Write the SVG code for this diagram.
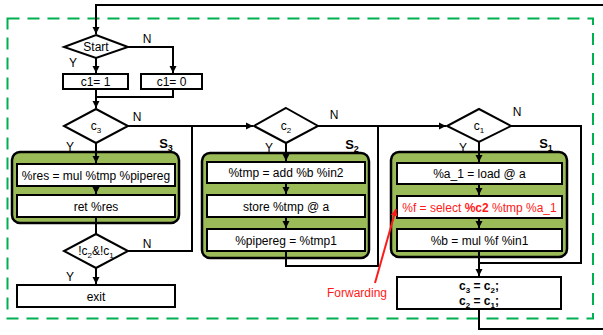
<svg xmlns="http://www.w3.org/2000/svg" width="603" height="335" viewBox="0 0 603 335">
<defs>
<style>
text{font-family:"Liberation Sans",Arial,sans-serif;fill:#000;}
.t{font-size:12px;text-anchor:middle;}
.lbl{font-size:12px;text-anchor:middle;}
.box{fill:#fff;stroke:#000;stroke-width:2;}
.dia{fill:#fff;stroke:#000;stroke-width:2;}
.grp{fill:#9bbb59;stroke:#000;stroke-width:2.5;}
.c{fill:none;stroke:#000;stroke-width:2;}
.s{font-size:13px;font-weight:bold;text-anchor:middle;}
.red{fill:#ff1a1a;}
</style>
<marker id="ah" markerUnits="userSpaceOnUse" markerWidth="8" markerHeight="8" refX="7" refY="4" orient="auto">
<path d="M0,0.5 L7,4 L0,7.5 z" fill="#000"/>
</marker>
<marker id="ahr" markerUnits="userSpaceOnUse" markerWidth="8" markerHeight="8" refX="7" refY="4" orient="auto">
<path d="M0,0.5 L7,4 L0,7.5 z" fill="#ff1a1a"/>
</marker>
</defs>
<rect x="0" y="0" width="603" height="335" fill="#fff"/>
<rect id="region" x="7.5" y="18.5" width="585.5" height="300" fill="none" stroke="#00b050" stroke-width="2" stroke-dasharray="12,8"/>

<g id="start">
<polygon class="dia" points="96,35 128,47 96,58 64,47"/>
<text class="t" x="96" y="51" font-size="12.5">Start</text>
</g>
<g id="c1eq1">
<rect class="box" x="63" y="74" width="65" height="15"/>
<text class="t" x="95.5" y="86">c1= 1</text>
</g>
<g id="c1eq0">
<rect class="box" x="141" y="74" width="61" height="15"/>
<text class="t" x="171.5" y="86">c1= 0</text>
</g>
<g id="c3">
<polygon class="dia" points="96,109 128,126 96,143 64,126"/>
<text class="t" x="96" y="130" font-size="11">c<tspan font-size="8" dy="3">3</tspan></text>
</g>
<g id="S3">
<text class="s" x="166" y="148">S<tspan font-size="9" dy="3">3</tspan></text>
<rect class="grp" x="12" y="152" width="167" height="71" rx="8"/>
<rect class="box" x="17" y="164" width="158" height="22"/>
<text class="t" x="96" y="179.5">%res = mul %tmp %pipereg</text>
<rect class="box" x="17" y="195" width="158" height="22"/>
<text class="t" x="96" y="210.5">ret %res</text>
</g>
<g id="cond">
<polygon class="dia" points="96,234 128,251 96,268 64,251"/>
<text class="t" x="96" y="255" font-size="11">!c<tspan font-size="8" dy="3">2</tspan><tspan dy="-3">&amp;!c</tspan><tspan font-size="8" dy="3">1</tspan></text>
</g>
<g id="exit">
<rect class="box" x="17" y="285" width="158" height="22"/>
<text class="t" x="96" y="300.5">exit</text>
</g>

<g id="c2">
<polygon class="dia" points="286,108 318,126 286,143 254,126"/>
<text class="t" x="286" y="130" font-size="11">c<tspan font-size="8" dy="3">2</tspan></text>
</g>
<g id="S2">
<text class="s" x="352" y="149">S<tspan font-size="9" dy="3">2</tspan></text>
<rect class="grp" x="202" y="153" width="167" height="105" rx="8"/>
<rect class="box" x="207" y="162" width="158" height="21"/>
<text class="t" x="286" y="177">%tmp = add %b %in2</text>
<rect class="box" x="207" y="195" width="158" height="22"/>
<text class="t" x="286" y="210.5">store %tmp @ a</text>
<rect class="box" x="207" y="229" width="158" height="22"/>
<text class="t" x="286" y="244.5">%pipereg = %tmp1</text>
</g>

<g id="c1">
<polygon class="dia" points="479,109 511,126 479,142 447,126"/>
<text class="t" x="479" y="130" font-size="11">c<tspan font-size="8" dy="3">1</tspan></text>
</g>
<g id="S1">
<text class="s" x="546" y="148">S<tspan font-size="9" dy="3">1</tspan></text>
<rect class="grp" x="391" y="152" width="176" height="105" rx="8"/>
<rect class="box" x="397" y="163" width="165" height="21"/>
<text class="t" x="479.5" y="178">%a_1 = load @ a</text>
<rect class="box" x="397" y="196" width="165" height="22"/>
<text class="t red" x="479.5" y="211.5">%f = select <tspan font-weight="bold">%c2</tspan> %tmp %a_1</text>
<rect class="box" x="397" y="229" width="165" height="22"/>
<text class="t" x="479.5" y="244.5">%b = mul %f %in1</text>
</g>
<g id="shift">
<rect class="box" x="397" y="277" width="164" height="32"/>
<text class="t" x="479" y="290" font-weight="bold">c<tspan font-size="8" dy="3">3</tspan><tspan dy="-3"> = c</tspan><tspan font-size="8" dy="3">2</tspan><tspan dy="-3">;</tspan></text>
<text class="t" x="479" y="305" font-weight="bold">c<tspan font-size="8" dy="3">2</tspan><tspan dy="-3"> = c</tspan><tspan font-size="8" dy="3">1</tspan><tspan dy="-3">;</tspan></text>
</g>

<g id="connectors">
<path class="c" d="M603,5 H96 V34" marker-end="url(#ah)"/>
<path class="c" d="M128,47 H173 V73" marker-end="url(#ah)"/>
<path class="c" d="M96,58 V73" marker-end="url(#ah)"/>
<path class="c" d="M173,89 V97 H96"/>
<path class="c" d="M96,89 V108" marker-end="url(#ah)"/>
<path class="c" d="M128,126 H253" marker-end="url(#ah)"/>
<path class="c" d="M128,251 H192 V126"/>
<path class="c" d="M96,143 V163" marker-end="url(#ah)"/>
<path class="c" d="M96,186 V194" marker-end="url(#ah)"/>
<path class="c" d="M96,217 V234"/>
<path class="c" d="M96,268 V284" marker-end="url(#ah)"/>
<path class="c" d="M286,143 V161" marker-end="url(#ah)"/>
<path class="c" d="M286,183 V194" marker-end="url(#ah)"/>
<path class="c" d="M286,217 V228" marker-end="url(#ah)"/>
<path class="c" d="M286,251 V266 H378 V126"/>
<path class="c" d="M318,126 H446" marker-end="url(#ah)"/>
<path class="c" d="M479,142 V162" marker-end="url(#ah)"/>
<path class="c" d="M479,184 V195" marker-end="url(#ah)"/>
<path class="c" d="M479,218 V228" marker-end="url(#ah)"/>
<path class="c" d="M479,251 V276" marker-end="url(#ah)"/>
<path class="c" d="M511,126 H581 V263 H479"/>
<path class="c" d="M479,309 V329 H603"/>
<path d="M375,283 L396,209" fill="none" stroke="#ff1a1a" stroke-width="2" marker-end="url(#ahr)"/>
</g>

<g id="labels">
<text class="lbl" x="147" y="43">N</text>
<text class="lbl" x="73" y="67">Y</text>
<text class="lbl" x="137" y="121">N</text>
<text class="lbl" x="70" y="151">Y</text>
<text class="lbl" x="147" y="248">N</text>
<text class="lbl" x="70" y="281">Y</text>
<text class="lbl" x="334" y="119">N</text>
<text class="lbl" x="269" y="152">Y</text>
<text class="lbl" x="517" y="116">N</text>
<text class="lbl" x="463" y="152">Y</text>
<text class="lbl red" x="357" y="297">Forwarding</text>
</g>
</svg>
